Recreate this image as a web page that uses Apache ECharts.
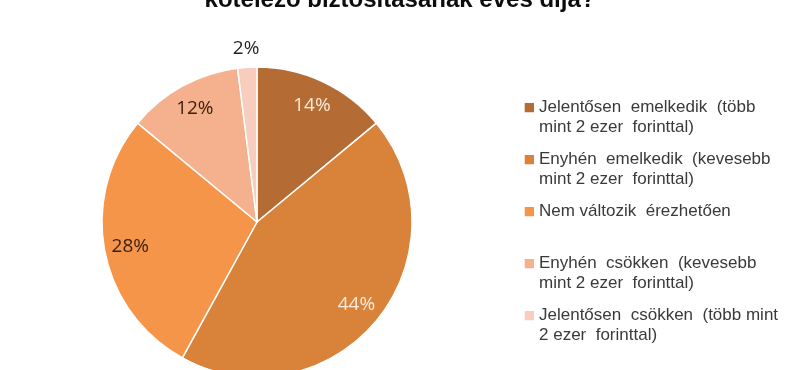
<!DOCTYPE html>
<html>
<head>
<meta charset="utf-8">
<script src="https://cdn.jsdelivr.net/npm/echarts@6/dist/echarts.min.js"></script>
<style>
html,body{margin:0;padding:0;background:#fff;}
#chart{width:800px;height:370px;}
</style>
</head>
<body>
<div id="chart"></div>
<script>
var titleText = 'kötelező biztosításának éves díja?';
var categories = [
  'Jelentősen emelkedik (több mint 2 ezer forinttal)',
  'Enyhén emelkedik (kevesebb mint 2 ezer forinttal)',
  'Nem változik érezhetően',
  'Enyhén csökken (kevesebb mint 2 ezer forinttal)',
  'Jelentősen csökken (több mint 2 ezer forinttal)'
];
var legendLabels = [
  'Jelentősen  emelkedik  (több\nmint 2 ezer  forinttal)',
  'Enyhén  emelkedik  (kevesebb\nmint 2 ezer  forinttal)',
  'Nem változik  érezhetően\n ',
  'Enyhén  csökken  (kevesebb\nmint 2 ezer  forinttal)',
  'Jelentősen  csökken  (több mint\n2 ezer  forinttal)'
];
var values = [14, 44, 28, 12, 2];
var colors = ['#B46C34', '#D9823A', '#F4954A', '#F5B08D', '#F8CDBD'];
var labelColors = ['#FCEBDA', '#FCEBDA', '#3B1E0C', '#3B1E0C', '#262626'];

var chart = echarts.init(document.getElementById('chart'));

var mainData = categories.map(function (n, i) {
  return { name: n, value: values[i], itemStyle: { color: colors[i] } };
});
var innerLabelData = categories.map(function (n, i) {
  return {
    name: n, value: values[i],
    label: { show: i < 4, color: labelColors[i] }
  };
});
var outerLabelData = categories.map(function (n, i) {
  return {
    name: n, value: values[i],
    label: { show: i === 4, color: labelColors[i] }
  };
});

var center = [257, 222];
var labelFont = { fontFamily: 'Open Sans', fontSize: 19, fontWeight: 'normal' };

chart.setOption({
  animation: false,
  backgroundColor: '#ffffff',
  title: {
    text: titleText,
    left: 'center',
    top: -12,
    padding: 0,
    textStyle: { fontFamily: 'Liberation Sans', fontWeight: 'bold', fontSize: 24, color: '#0d0d0d' }
  },
  legend: {
    orient: 'vertical',
    left: 521,
    top: 97,
    padding: 0,
    itemWidth: 13,
    itemHeight: 40,
    itemGap: 12,
    icon: 'path://M0,0L0.001,0L0.001,0.001Z M4,5H14V15H4Z M0,40L0.001,40L0.001,39.999Z',
    itemStyle: { borderWidth: 0 },
    selectedMode: false,
    data: categories,
    formatter: function (name) {
      return legendLabels[categories.indexOf(name)];
    },
    textStyle: { fontFamily: 'Liberation Sans', fontSize: 17, lineHeight: 20, color: '#3a3a3a' }
  },
  series: [
    {
      type: 'pie',
      center: center,
      radius: 155,
      startAngle: 90,
      clockwise: true,
      silent: true,
      label: { show: false },
      labelLine: { show: false },
      itemStyle: { borderColor: '#ffffff', borderWidth: 1.5 },
      data: mainData
    },
    {
      type: 'pie',
      center: center,
      radius: [97, 155],
      startAngle: 90,
      clockwise: true,
      silent: true,
      itemStyle: { color: 'rgba(0,0,0,0)', borderWidth: 0 },
      label: Object.assign({ position: 'inside', formatter: '{c}%' }, labelFont),
      labelLine: { show: false },
      data: innerLabelData
    },
    {
      type: 'pie',
      center: center,
      radius: [155, 187],
      startAngle: 90,
      clockwise: true,
      silent: true,
      itemStyle: { color: 'rgba(0,0,0,0)', borderWidth: 0 },
      label: Object.assign({ position: 'inside', formatter: '{c}%' }, labelFont),
      labelLine: { show: false },
      data: outerLabelData
    }
  ]
});
</script>
</body>
</html>
